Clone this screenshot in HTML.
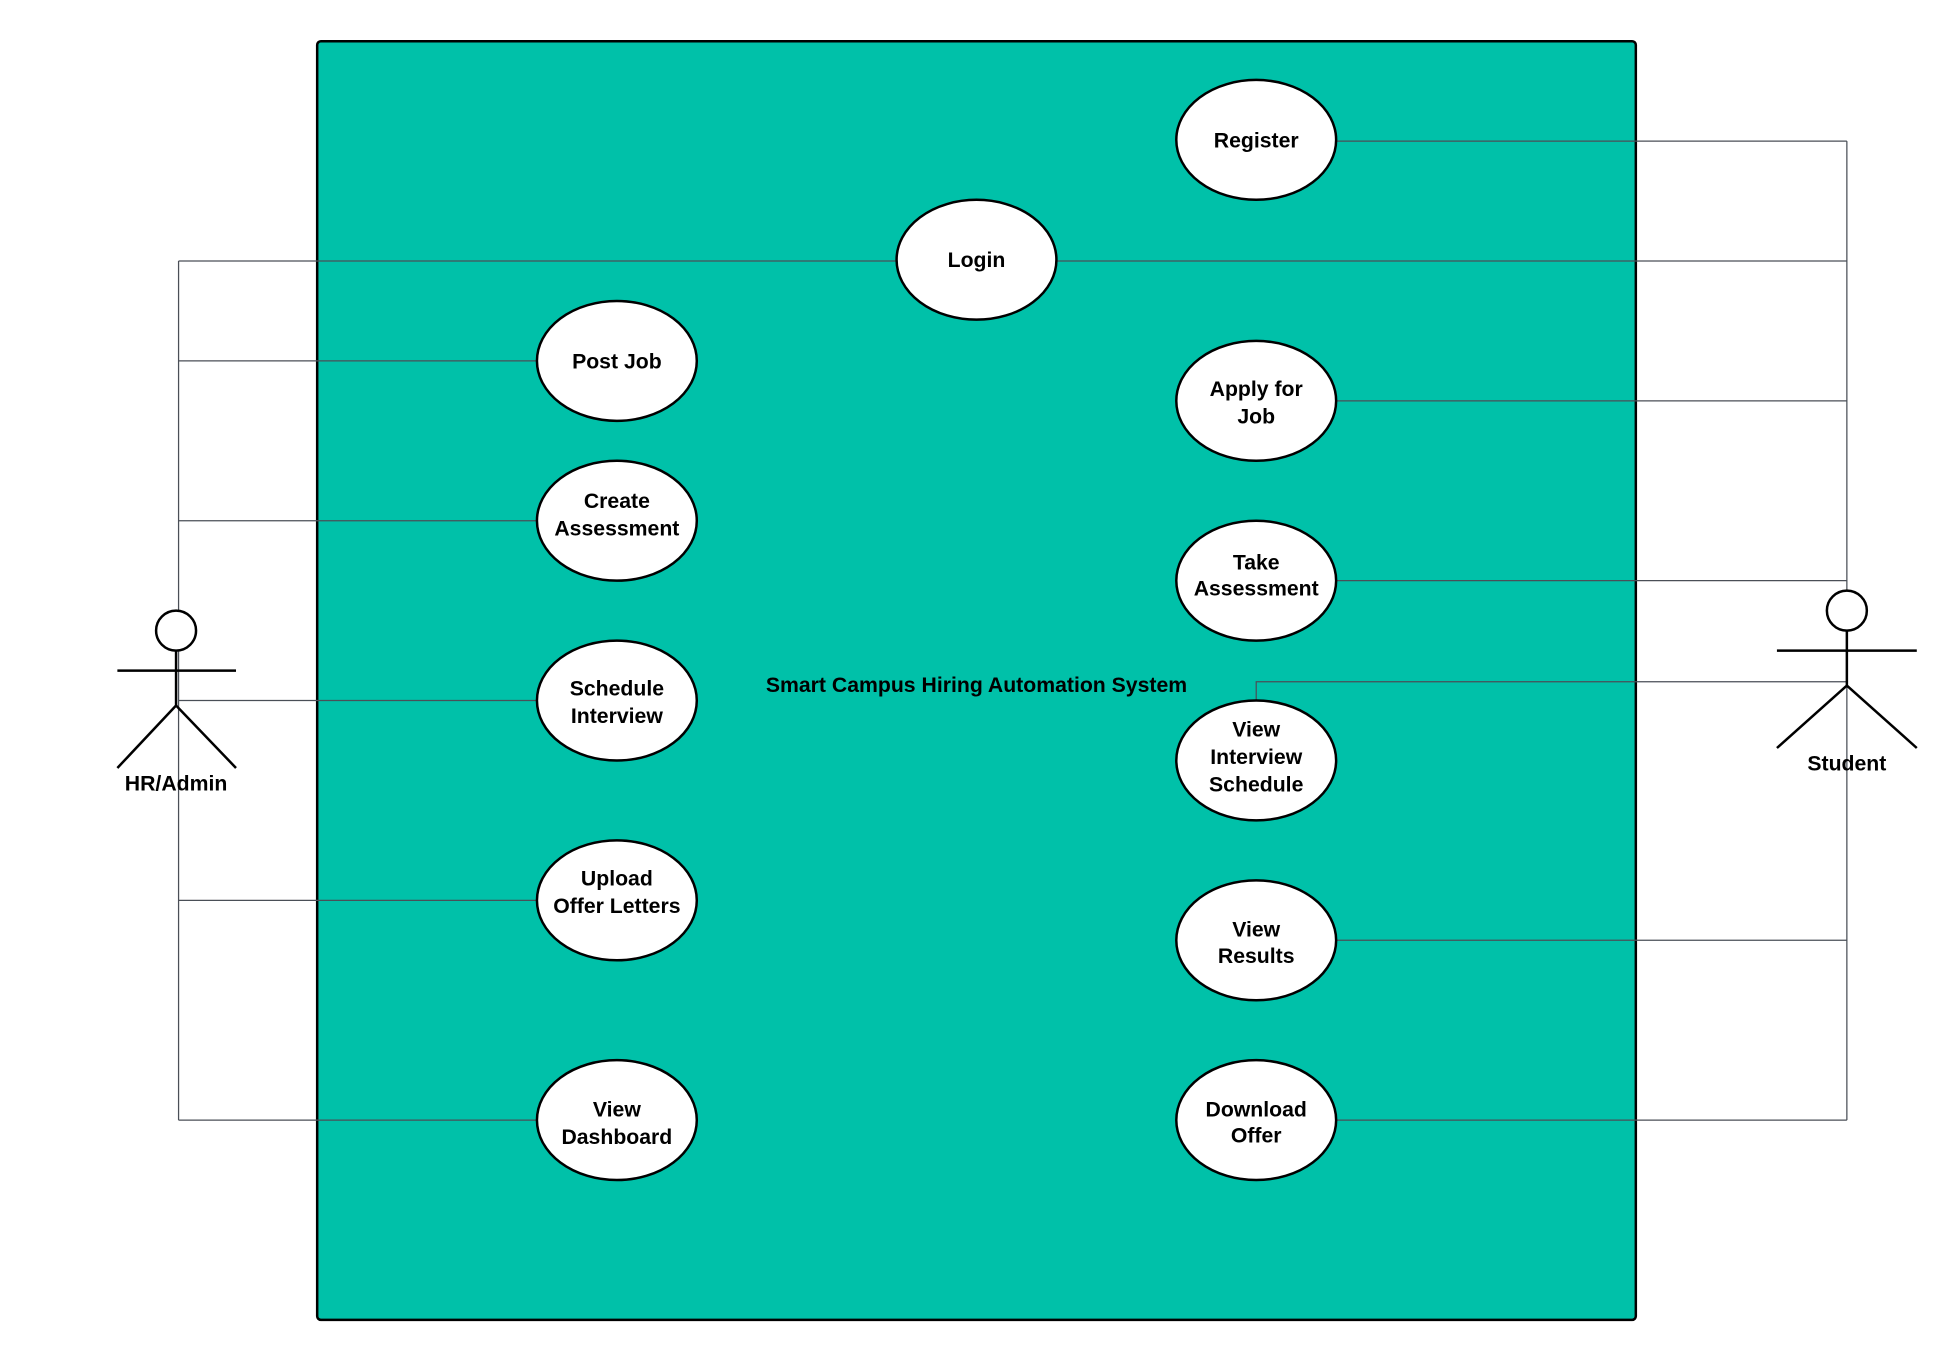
<!DOCTYPE html>
<html><head><meta charset="utf-8"><style>
html,body{margin:0;padding:0;background:#fff;}
svg{display:block;}
text{font-family:"Liberation Sans",sans-serif;font-weight:bold;fill:#000;}
</style></head><body>
<svg width="1958" height="1362" viewBox="0 0 1568 1090.7" xmlns="http://www.w3.org/2000/svg">
<rect x="254" y="33" width="1056" height="1024" rx="3" fill="#00C1A9" stroke="#000" stroke-width="2"/>
<g fill="none" stroke="#4a4f57" stroke-width="1">
<path d="M143 209 V897"/>
<path d="M143 209 H718"/>
<path d="M143 289 H430"/>
<path d="M143 417 H430"/>
<path d="M143 561 H430"/>
<path d="M143 721 H430"/>
<path d="M143 897 H430"/>
<path d="M846 209 H1479"/>
<path d="M1479 113 V897"/>
<path d="M1070 113 H1479"/>
<path d="M1070 321 H1479"/>
<path d="M1070 465 H1479"/>
<path d="M1006 561 V546 H1479"/>
<path d="M1070 753 H1479"/>
<path d="M1070 897 H1479"/>
</g>
<text x="782" y="554" font-size="17" text-anchor="middle">Smart Campus Hiring Automation System</text>
<g stroke="#000" stroke-width="2" fill="#fff" font-size="17" text-anchor="middle">
<g><ellipse cx="1006" cy="112" rx="64" ry="48"/><text x="1006" y="118" stroke="none">Register</text></g>
<g><ellipse cx="782" cy="208" rx="64" ry="48"/><text x="782" y="214" stroke="none">Login</text></g>
<g><ellipse cx="494" cy="289" rx="64" ry="48"/><text x="494" y="295" stroke="none">Post Job</text></g>
<g><ellipse cx="494" cy="417" rx="64" ry="48"/><text x="494" y="407" stroke="none">Create</text><text x="494" y="429" stroke="none">Assessment</text></g>
<g><ellipse cx="494" cy="561" rx="64" ry="48"/><text x="494" y="557" stroke="none">Schedule</text><text x="494" y="579" stroke="none">Interview</text></g>
<g><ellipse cx="494" cy="721" rx="64" ry="48"/><text x="494" y="709" stroke="none">Upload</text><text x="494" y="731" stroke="none">Offer Letters</text></g>
<g><ellipse cx="494" cy="897" rx="64" ry="48"/><text x="494" y="894" stroke="none">View</text><text x="494" y="916" stroke="none">Dashboard</text></g>
<g><ellipse cx="1006" cy="321" rx="64" ry="48"/><text x="1006" y="317" stroke="none">Apply for</text><text x="1006" y="339" stroke="none">Job</text></g>
<g><ellipse cx="1006" cy="465" rx="64" ry="48"/><text x="1006" y="456" stroke="none">Take</text><text x="1006" y="477" stroke="none">Assessment</text></g>
<g><ellipse cx="1006" cy="609" rx="64" ry="48"/><text x="1006" y="590" stroke="none">View</text><text x="1006" y="612" stroke="none">Interview</text><text x="1006" y="634" stroke="none">Schedule</text></g>
<g><ellipse cx="1006" cy="753" rx="64" ry="48"/><text x="1006" y="750" stroke="none">View</text><text x="1006" y="771" stroke="none">Results</text></g>
<g><ellipse cx="1006" cy="897" rx="64" ry="48"/><text x="1006" y="894" stroke="none">Download</text><text x="1006" y="915" stroke="none">Offer</text></g>
</g>
<g stroke="#000" stroke-width="2" fill="none">
<circle cx="141" cy="505" r="16" fill="#fff"/>
<path d="M141 521 V565 M94 537 H189 M141 565 L94 615 M141 565 L189 615"/>
<text x="141" y="633" font-size="17" text-anchor="middle" stroke="none">HR/Admin</text>
</g>
<g stroke="#000" stroke-width="2" fill="none">
<circle cx="1479" cy="489" r="16" fill="#fff"/>
<path d="M1479 505 V549 M1423 521 H1535 M1479 549 L1423 599 M1479 549 L1535 599"/>
<text x="1479" y="617" font-size="17" text-anchor="middle" stroke="none">Student</text>
</g>
</svg>
</body></html>
